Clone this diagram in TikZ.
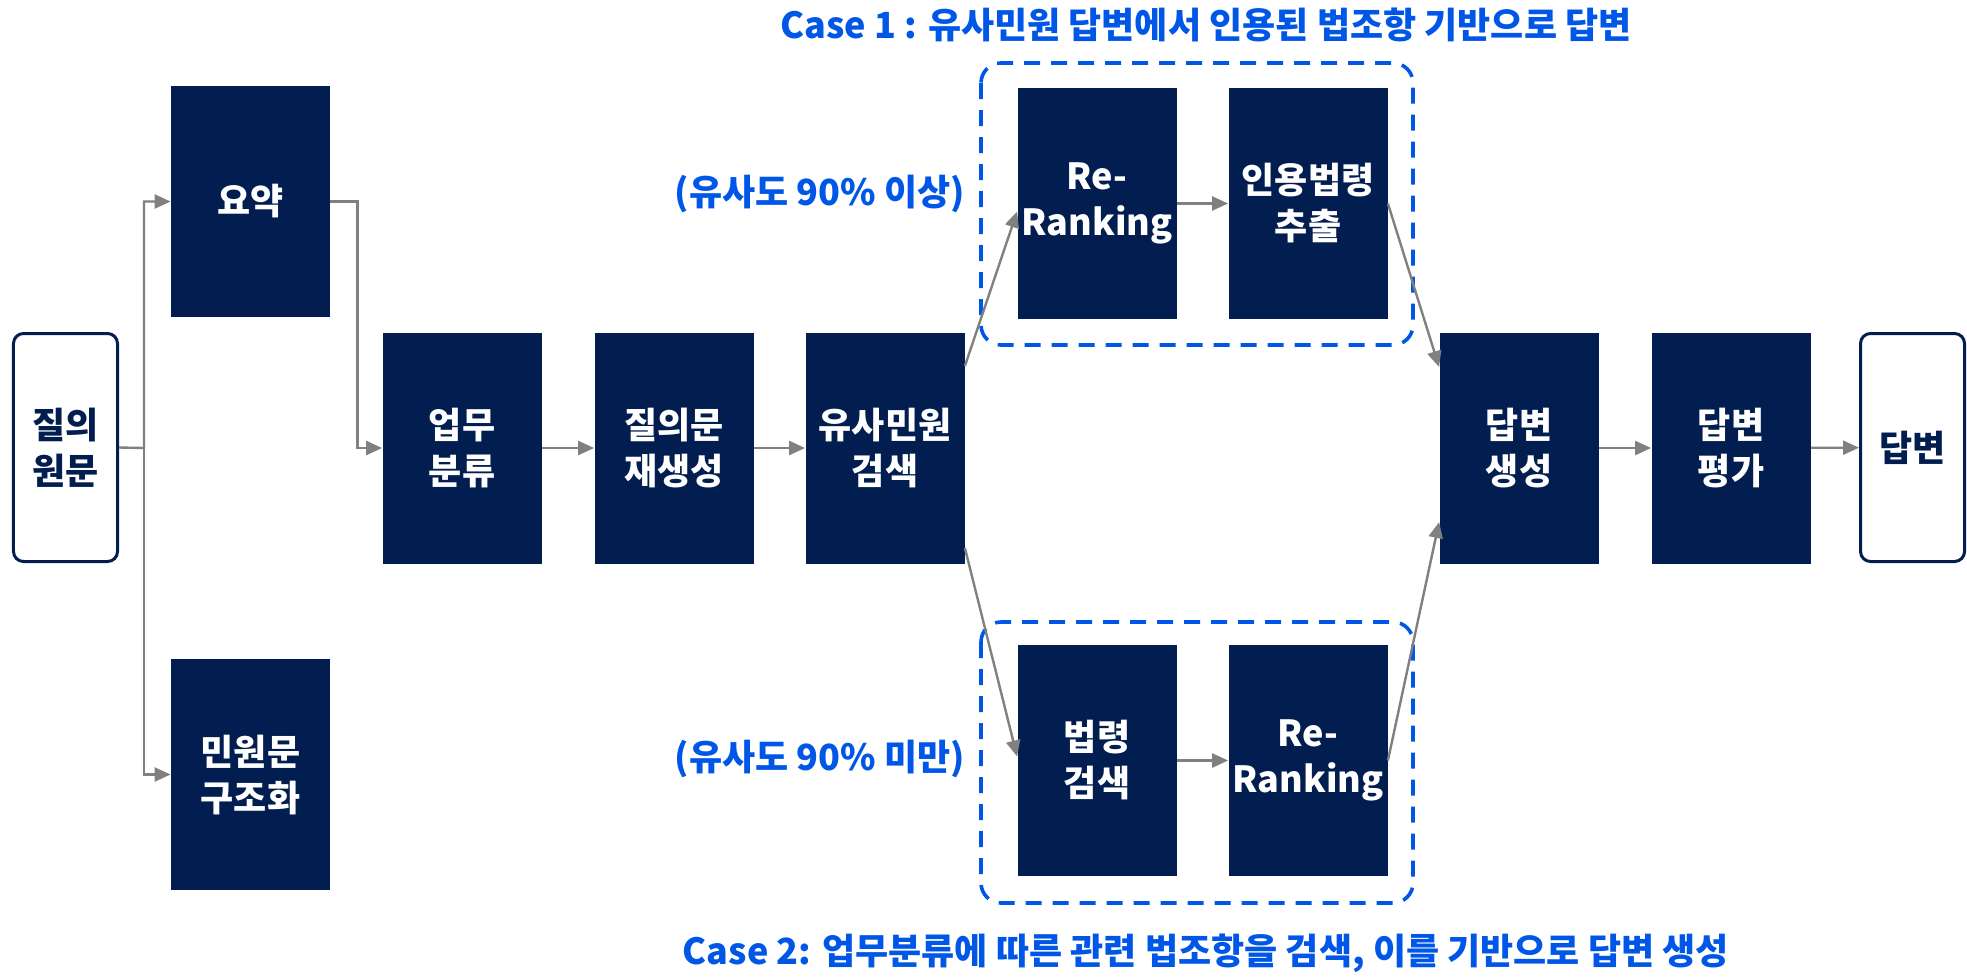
\documentclass[tikz,border=0pt]{standalone}
\usepackage{fontspec}
\setmainfont{Noto Sans CJK KR}
\usepackage{tikz}
\usetikzlibrary{arrows.meta}
\definecolor{navy}{RGB}{2,30,80}
\definecolor{caseblue}{RGB}{0,86,230}
\definecolor{flowgray}{RGB}{128,128,128}

\begin{document}
\begin{tikzpicture}[x=0.5bp,y=-0.5bp,
  stage/.style={fill=navy,text=white,minimum width=79.5bp,minimum height=115.5bp,inner sep=0pt,align=center,font=\bfseries\fontsize{18bp}{23bp}\selectfont},
  io/.style={draw=navy,line width=1.5bp,rounded corners=5bp,fill=white,text=navy,minimum width=52bp,minimum height=114bp,inner sep=0pt,align=center,font=\bfseries\fontsize{18bp}{23bp}\selectfont},
  flow/.style={-{Triangle[length=8bp,width=7bp]},draw=flowgray,line width=1.2bp},
  casebox/.style={draw=caseblue,line width=1.8bp,dash pattern=on 8bp off 5.5bp,rounded corners=10bp},
  caselabel/.style={text=caseblue,inner sep=0pt,font=\bfseries\fontsize{18bp}{21bp}\selectfont}]

\useasboundingbox (0,0) rectangle (1967,977);

\node (q) at (65.5,447.5)[io] {질의\\원문};
\node (sum) at (250.5,201.5)[stage] {요약};
\node (civ) at (250.5,774.5)[stage] {민원문\\구조화};
\node (cls) at (462,448)[stage] {업무\\분류};
\node (rew) at (674,448)[stage] {질의문\\재생성};
\node (srch) at (885,448)[stage] {유사민원\\검색};
\node (rr1) at (1097,203.5)[stage] {Re-\\Ranking};
\node (cite) at (1308,203.5)[stage] {인용법령\\추출};
\node (law) at (1097,760.5)[stage] {법령\\검색};
\node (rr2) at (1308,760.5)[stage] {Re-\\Ranking};
\node (gen) at (1519,448)[stage] {답변\\생성};
\node (eval) at (1731,448)[stage] {답변\\평가};
\node (ans) at (1912.5,447.5)[io] {답변};

\draw [casebox] (981,63) rectangle (1413,345);
\draw [casebox] (981,622) rectangle (1413,903);

\node (case1) at (1206,25)[caselabel] {Case 1 : 유사민원 답변에서 인용된 법조항 기반으로 답변};
\node (simhi) at (820,194)[caselabel] {(유사도 90\% 이상)};
\node (simlo) at (820,759)[caselabel] {(유사도 90\% 미만)};
\node (case2) at (1206,953)[caselabel] {Case 2: 업무분류에 따른 관련 법조항을 검색, 이를 기반으로 답변 생성};

\coordinate (split) at (144,448);
\draw [flow] (q.east) -- (split) |- (sum.west);
\draw [flow] (split) |- (civ.west);
\draw [flow] (sum.east) -- ++(27,0) |- (cls.west);
\draw [flow] (cls) -- (rew);
\draw [flow] (rew) -- (srch);
\draw [flow] ([yshift=41bp]srch.east) -- ([yshift=-4bp]rr1.west);
\draw [flow] ([yshift=-50bp]srch.east) -- ([yshift=2bp]law.west);
\draw [flow] (rr1) -- (cite);
\draw [flow] (law) -- (rr2);
\draw [flow] (cite.east) -- ([yshift=40.5bp]gen.west);
\draw [flow] (rr2.east) -- ([yshift=-37bp]gen.west);
\draw [flow] (gen) -- (eval);
\draw [flow] (eval) -- (ans);
\end{tikzpicture}
\end{document}
